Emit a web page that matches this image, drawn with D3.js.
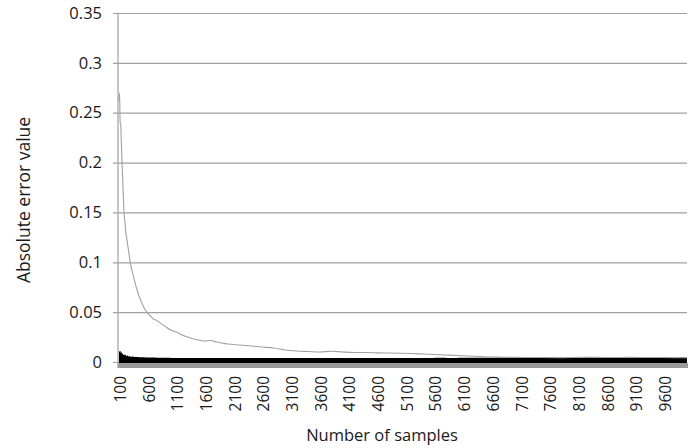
<!DOCTYPE html>
<html>
<head>
<meta charset="utf-8">
<script src="https://cdn.jsdelivr.net/npm/d3@7/dist/d3.min.js"></script>
<style>
  html, body { margin: 0; padding: 0; background: #fff; }
  svg { display: block; font-family: "Open Sans", "Noto Sans", sans-serif; }
</style>
</head>
<body>
<svg id="chart" width="697" height="448"></svg>
<script>
const samples = [100,110,120,130,140,150,160,170,180,190,200,220,240,260,280,300,330,360,400,450,500,550,600,650,700,750,800,900,1000,1100,1200,1300,1400,1500,1600,1700,1800,1900,2000,2200,2400,2600,2800,3000,3200,3400,3600,3800,4000,4200,4400,4600,4800,5000,5200,5400,5600,5800,6000,6200,6400,6600,6800,7000,7400,7800,8200,8600,9000,9400,9800,10000];

// Gray line series (absolute error, estimate A)
const grayError = [0.262,0.270,0.240,0.238,0.222,0.204,0.190,0.176,0.160,0.148,0.142,0.130,0.122,0.114,0.106,0.099,0.091,0.084,0.075,0.066,0.059,0.053,0.049,0.046,0.043,0.042,0.040,0.036,0.032,0.030,0.027,0.025,0.023,0.022,0.021,0.0215,0.020,0.019,0.018,0.017,0.016,0.015,0.014,0.012,0.011,0.0105,0.010,0.0108,0.010,0.0095,0.0095,0.0092,0.0090,0.0088,0.0085,0.0080,0.0075,0.0070,0.0065,0.0060,0.0055,0.0050,0.0048,0.0046,0.0045,0.0044,0.0047,0.0045,0.0046,0.0045,0.0044,0.0043];

// Black area series (absolute error, estimate B)
const blackError = [0.011,0.010,0.011,0.009,0.010,0.008,0.0085,0.007,0.0078,0.0068,0.0072,0.006,0.0064,0.0056,0.0058,0.0052,0.0054,0.005,0.0049,0.0048,0.0047,0.0045,0.0046,0.0044,0.0044,0.0043,0.0042,0.0042,0.0041,0.0040,0.0041,0.0040,0.0040,0.0041,0.0040,0.0040,0.0041,0.0040,0.0040,0.0041,0.0040,0.0040,0.0041,0.0040,0.0041,0.0040,0.0041,0.0040,0.0041,0.0041,0.0040,0.0041,0.0041,0.0040,0.0041,0.0041,0.0042,0.0041,0.0042,0.0042,0.0042,0.0042,0.0043,0.0042,0.0043,0.0043,0.0044,0.0043,0.0044,0.0044,0.0044,0.0044];

const yTicks = [0,0.05,0.1,0.15,0.2,0.25,0.3,0.35];
const xTickValues = [100,600,1100,1600,2100,2600,3100,3600,4100,4600,5100,5600,6100,6600,7100,7600,8100,8600,9100,9600];

const yTitle = "Absolute error value";
const xTitle = "Number of samples";

const svg = d3.select("#chart");
const mLeft = 118, mRight = 687, mTop = 13, mBottom = 362;

const x = d3.scaleLinear().domain([100, 10000]).range([mLeft + 1, mRight]);
const y = d3.scaleLinear().domain([0, 0.35]).range([mBottom, mTop]);

const gridColor = "#a0a0a0";

// Horizontal gridlines + ticks
const yAxis = d3.axisLeft(y).tickValues(yTicks).tickSize(0).tickPadding(10)
  .tickFormat(d => d === 0 ? "0" : String(+d.toFixed(2)));
const gy = svg.append("g").attr("transform", `translate(${mLeft - 5},0)`).call(yAxis);
gy.select(".domain").remove();
gy.selectAll(".tick line").attr("stroke", gridColor).attr("stroke-width", 1.2)
  .attr("x1", 0).attr("x2", mRight - mLeft + 5);
gy.selectAll(".tick text").attr("x", -11).attr("font-size", 16.5).attr("fill", "#1a1a1a")
  .attr("font-family", "'Open Sans', sans-serif");

const data = samples.map((n, i) => ({n, g: grayError[i], b: blackError[i]}));

// Black area
svg.append("path")
  .datum(data)
  .attr("fill", "#000")
  .attr("d", d3.area().x(d => x(d.n)).y0(y(0) + 1).y1(d => y(d.b)).curve(d3.curveStepAfter));

// Gray band below zero (axis)
svg.append("rect")
  .attr("x", mLeft).attr("y", y(0) + 1)
  .attr("width", mRight - mLeft + 1).attr("height", 5)
  .attr("fill", "#9a9a9a");

// Gray line
svg.append("path")
  .datum(data)
  .attr("fill", "none")
  .attr("stroke", "#a0a0a0")
  .attr("stroke-width", 1.1)
  .attr("d", d3.line().x(d => x(d.n)).y(d => y(d.g)).curve(d3.curveMonotoneX));

// Y axis line
svg.append("line")
  .attr("x1", mLeft).attr("x2", mLeft)
  .attr("y1", mTop).attr("y2", y(0) + 6)
  .attr("stroke", gridColor).attr("stroke-width", 1.2);

// X tick labels (rotated)
const xAxis = d3.axisBottom(x).tickValues(xTickValues).tickSize(0).tickPadding(0)
  .tickFormat(d => String(d));
const gx = svg.append("g").attr("transform", `translate(0,${y(0)})`).call(xAxis);
gx.select(".domain").remove();
gx.selectAll(".tick text")
  .attr("transform", "translate(1,14) rotate(-90)")
  .attr("text-anchor", "end")
  .attr("x", 0).attr("y", 0).attr("dy", "0.35em")
  .attr("font-size", 15.5).attr("fill", "#1a1a1a")
  .attr("font-family", "'Open Sans', sans-serif");

// Axis titles
svg.append("text")
  .attr("transform", "translate(30,200) rotate(-90)")
  .attr("text-anchor", "middle")
  .attr("font-size", 17.5).attr("fill", "#1a1a1a")
  .text(yTitle);

svg.append("text")
  .attr("x", 382).attr("y", 441)
  .attr("text-anchor", "middle")
  .attr("font-size", 16.5).attr("fill", "#1a1a1a")
  .text(xTitle);
</script>
</body>
</html>
